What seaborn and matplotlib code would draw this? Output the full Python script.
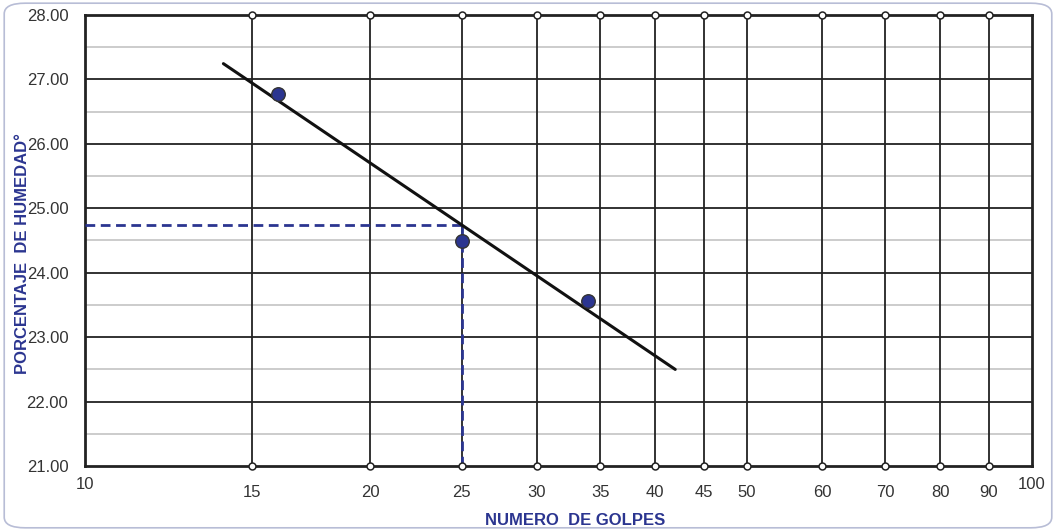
import numpy as np
import pandas as pd
import matplotlib
matplotlib.use("Agg")
import matplotlib.pyplot as plt
import seaborn as sns
from matplotlib.patches import FancyBboxPatch

# data
golpes = [16, 25, 34]
humedad = [26.77, 24.49, 23.56]
fit_range = [14, 42]          # extent of the fitted line
grid_x = [15, 20, 25, 30, 35, 40, 45, 50, 60, 70, 80, 90]
xticks = [15, 20, 25, 30, 35, 40, 45, 50, 60, 70, 80, 90]
xends = [10, 100]             # end labels sit a bit higher
yticks = [21, 22, 23, 24, 25, 26, 27, 28]
n_ref = 25                    # blows for the liquid limit

navy = "#2b3590"
dark = "#222222"

sns.set_theme(style="white")
plt.rcParams["font.family"] = ["Liberation Sans", "DejaVu Sans"]

# log fit: humedad = a*log10(N) + b
a, b = np.polyfit(np.log10(golpes), humedad, 1)
fit = pd.DataFrame({"N": np.geomspace(fit_range[0], fit_range[1], 50)})
fit["w"] = a * np.log10(fit["N"]) + b
w_ref = a * np.log10(n_ref) + b

fig = plt.figure(figsize=(10.56, 5.31), dpi=100)
ax = fig.add_axes([0.0805, 0.1224, 0.8968, 0.8494])
ax.set_xscale("log")
ax.set_xlim(10, 100)
ax.set_ylim(21, 28)

# horizontal grid: integers dark, halves light
for y in np.arange(21.5, 28, 1.0):
    ax.axhline(y, color="#c4c4c4", lw=1.2, zorder=1)
for y in yticks[1:-1]:
    ax.axhline(y, color=dark, lw=1.3, zorder=1)
# vertical grid with open circles on the frame
for x in grid_x:
    ax.axvline(x, color=dark, lw=1.3, zorder=1)
ax.plot(grid_x, [28] * len(grid_x), "o", ms=5, mfc="white", mec=dark, mew=1.1,
        clip_on=False, zorder=6)
ax.plot(grid_x, [21] * len(grid_x), "o", ms=5, mfc="white", mec=dark, mew=1.1,
        clip_on=False, zorder=6)

# reference dashed lines at 25 blows
ax.plot([10, n_ref], [w_ref, w_ref], ls=(0, (3.5, 2)), color=navy, lw=2, zorder=3)
ax.plot([n_ref, n_ref], [21, w_ref], ls=(0, (3.5, 2)), color=navy, lw=2, zorder=3)

sns.lineplot(data=fit, x="N", y="w", color="#111111", lw=2.2, ax=ax, zorder=4)
sns.scatterplot(x=golpes, y=humedad, s=95, color=navy, edgecolor="#333333",
                linewidth=1, ax=ax, zorder=5)

for s in ax.spines.values():
    s.set_color(dark)
    s.set_linewidth(2)

yt = np.arange(21, 28.01, 0.5)
ax.set_yticks(yt)
ax.set_yticklabels([f"{v:.2f}" if v == int(v) else "" for v in yt])
ax.tick_params(axis="y", direction="in", length=4, width=1.5, color=dark,
               labelsize=12, labelcolor="#333333", pad=12)
ax.set_xticks(xticks)
ax.set_xticklabels([str(v) for v in xticks])
ax.xaxis.set_minor_locator(matplotlib.ticker.NullLocator())
ax.tick_params(axis="x", length=0, labelsize=12, labelcolor="#333333", pad=14)
for v in xends:
    ax.text(v, -0.025, str(v), transform=ax.get_xaxis_transform(), ha="center",
            va="top", fontsize=12, color="#333333")

ax.set_xlabel("NUMERO  DE GOLPES", fontsize=12, fontweight="bold", color=navy)
ax.xaxis.set_label_coords(0.518, -0.105)
ax.set_ylabel("PORCENTAJE  DE HUMEDAD°", fontsize=12, fontweight="bold", color=navy)
ax.yaxis.set_label_coords(-0.058, 0.47)

# rounded frame around the figure
frame = FancyBboxPatch((0.004, 0.006), 0.992, 0.988, boxstyle="round,pad=0,rounding_size=0.02",
                       transform=fig.transFigure, fill=False, ec="#b8bdd6", lw=1.2)
fig.patches.append(frame)

fig.savefig("out.png", dpi=100)
